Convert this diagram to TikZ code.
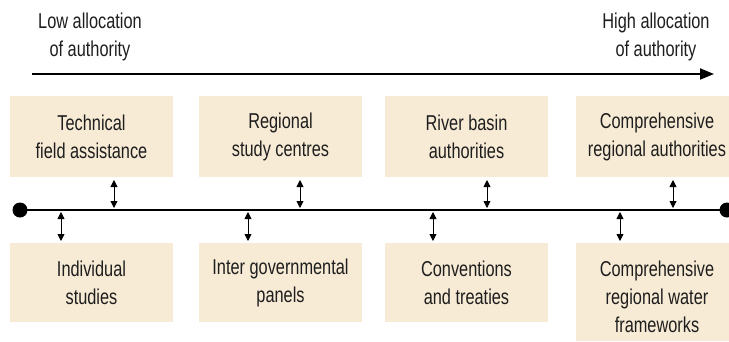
\documentclass[tikz,border=0pt]{standalone}
\usepackage{fontspec}
\setmainfont[FakeStretch=0.76]{Liberation Sans}
\usetikzlibrary{arrows.meta}
\definecolor{boxfill}{HTML}{F7EBD5}
\definecolor{txt}{HTML}{1E1E1E}
\tikzset{
  lbl/.style={text=txt, align=center, font=\fontsize{21.5}{28}\selectfont},
  dbl/.style={{Triangle[length=7pt,width=7pt]}-{Triangle[length=7pt,width=7pt]}, line width=0.9pt},
  dot/.style={circle, fill=black, inner sep=0pt, minimum size=15pt}
}
\begin{document}
\begin{tikzpicture}[x=1pt,y=-1pt]
\useasboundingbox (0,0) rectangle (729,341);
% top labels
\node[lbl] (low) at (90,37) {Low allocation\\of authority};
\node[lbl] (high) at (656,37) {High allocation\\of authority};
\coordinate (as) at (32,74);
\coordinate (ae) at (714,74);
\draw[line width=1.8pt, -{Triangle[length=14pt,width=11pt]}] (as) -- (ae);
% main line
\node[dot] (d1) at (20,210) {};
\node[dot] (d2) at (727,210) {};
\draw[line width=1.8pt] (d1.center) -- (d2.center);
% top boxes
\path[fill=boxfill] (10,96) rectangle (173,177);
\path[fill=boxfill] (199,96) rectangle (362,177);
\path[fill=boxfill] (385,96) rectangle (548,177);
\path[fill=boxfill] (576,96) rectangle (739,177);
\node[lbl] (t1) at (91.5,137) {Technical\\field assistance};
\node[lbl] (t2) at (280.5,137) {Regional\\study centres};
\node[lbl] (t3) at (466.5,137) {River basin\\authorities};
\node[lbl] (t4) at (657,137) {Comprehensive\\regional authorities};
% bottom boxes
\path[fill=boxfill] (10,243) rectangle (173,322);
\path[fill=boxfill] (199,243) rectangle (362,322);
\path[fill=boxfill] (385,243) rectangle (548,322);
\path[fill=boxfill] (576,243) rectangle (739,341);
\node[lbl] (b1) at (91.5,283) {Individual\\studies};
\node[lbl] (b2) at (280.5,283) {Inter governmental\\panels};
\node[lbl] (b3) at (466.5,283) {Conventions\\and treaties};
\node[lbl] (b4) at (657,297) {Comprehensive\\regional water\\frameworks};
% double arrows
\foreach \x/\n in {114/u1,300/u2,487/u3,673/u4}{
  \coordinate (\n a) at (\x,180);
  \coordinate (\n b) at (\x,208);
  \draw[dbl] (\n a) -- (\n b);
}
\foreach \x/\n in {61/l1,248/l2,433/l3,620/l4}{
  \coordinate (\n a) at (\x,212);
  \coordinate (\n b) at (\x,241);
  \draw[dbl] (\n a) -- (\n b);
}
\end{tikzpicture}
\end{document}
